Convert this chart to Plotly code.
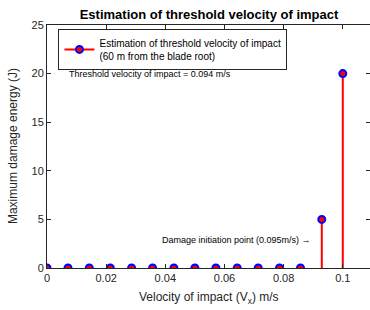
import plotly.graph_objects as go

# Data
velocity = [0, 0.0071, 0.0143, 0.0214, 0.0286, 0.0357, 0.0429, 0.05,
            0.0571, 0.0643, 0.0714, 0.0786, 0.0857, 0.0929, 0.1]
energy = [0, 0, 0, 0, 0, 0, 0, 0, 0, 0, 0, 0, 0, 5, 20]
x_ticks = [0, 0.02, 0.04, 0.06, 0.08, 0.1]
x_tick_labels = ["0", "0.02", "0.04", "0.06", "0.08", "0.1"]
y_ticks = [0, 5, 10, 15, 20, 25]

series_name = "Estimation of threshold velocity of impact<br>(60 m from the blade root)"
font_fam = "Liberation Sans, Arial, sans-serif"

# stems built from data
stem_x, stem_y = [], []
for xv, yv in zip(velocity, energy):
    stem_x += [xv, xv, None]
    stem_y += [0, yv, None]

fig = go.Figure()
fig.add_trace(go.Scatter(x=stem_x, y=stem_y, mode="lines",
                         line=dict(color="red", width=2),
                         showlegend=False, hoverinfo="skip"))
fig.add_trace(go.Scatter(x=velocity, y=energy, mode="markers",
                         marker=dict(symbol="circle", size=7, color="red",
                                     line=dict(color="blue", width=2)),
                         showlegend=False))
fig.add_trace(go.Scatter(x=[None], y=[None], mode="lines+markers",
                         name=series_name,
                         line=dict(color="red", width=2),
                         marker=dict(symbol="circle", size=7, color="red",
                                     line=dict(color="blue", width=2))))

axis_common = dict(showline=True, linecolor="#262626", linewidth=1,
                   mirror="ticks", ticks="inside", ticklen=4,
                   tickcolor="#262626", showgrid=False, zeroline=False,
                   automargin=False,
                   tickfont=dict(size=11, color="#262626", family=font_fam))

fig.add_annotation(x=0.0069, y=20, xref="x", yref="y",
                   text="Threshold velocity of impact = 0.094 m/s",
                   showarrow=False, xanchor="left", yanchor="middle",
                   font=dict(size=9, color="black", family=font_fam))
fig.add_annotation(x=0.0898, y=2.88, xref="x", yref="y",
                   text="Damage initiation point (0.095m/s) →",
                   showarrow=False, xanchor="right", yanchor="middle",
                   font=dict(size=9, color="black", family=font_fam))
fig.add_annotation(x=(209 - 46.5) / 323.5, y=-(298 - 268) / 243,
                   xref="paper", yref="paper",
                   text="Velocity of impact (V<sub>x</sub>) m/s",
                   showarrow=False, xanchor="center", yanchor="middle",
                   font=dict(size=12, color="#262626", family=font_fam))
fig.add_annotation(x=-(46.5 - 12) / 323.5, y=0.5,
                   xref="paper", yref="paper", textangle=-90,
                   text="Maximum damage energy (J)",
                   showarrow=False, xanchor="center", yanchor="middle",
                   font=dict(size=12, color="#262626", family=font_fam))

fig.update_layout(
    width=370, height=310,
    margin=dict(l=46.5, r=0, t=25, b=42, autoexpand=False),
    paper_bgcolor="white", plot_bgcolor="white",
    title=dict(text="<b>Estimation of threshold velocity of impact</b>",
               x=209 / 370, xanchor="center", y=1 - 14 / 310, yanchor="middle",
               xref="container", yref="container", automargin=False,
               font=dict(size=13, color="black", family=font_fam)),
    xaxis=dict(range=[0, 0.1092], tickvals=x_ticks, ticktext=x_tick_labels,
               **axis_common),
    yaxis=dict(range=[0, 25], tickvals=y_ticks, **axis_common),
    legend=dict(x=0.0355, y=0.984, xanchor="left", yanchor="top",
                bgcolor="white", bordercolor="#262626", borderwidth=1,
                tracegroupgap=0,
                font=dict(size=10, color="black", family=font_fam)),
)

fig.write_html("out.html", config={"displayModeBar": False},
               post_script="document.body.style.margin='0';")
